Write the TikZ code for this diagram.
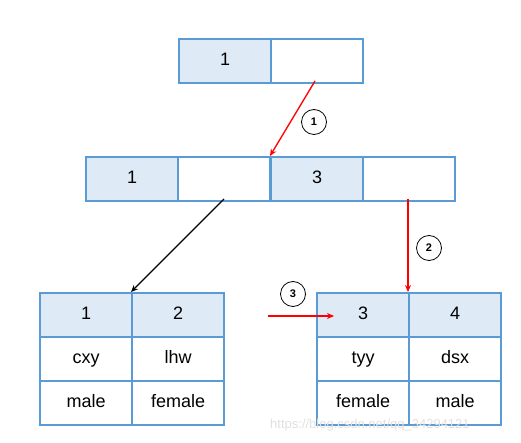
\documentclass[tikz,border=0pt]{standalone}
\usepackage{fontspec}
\setmainfont{Liberation Sans}
\usetikzlibrary{arrows.meta}
\definecolor{cellline}{RGB}{91,155,213}
\definecolor{cellfill}{RGB}{222,235,247}
\definecolor{arrred}{RGB}{255,0,0}
\begin{document}
\begin{tikzpicture}[x=1pt,y=-1pt,
  cell/.style={draw=cellline,line width=2.2pt,minimum width=92pt,minimum height=44pt,inner sep=0pt,text height=12.5pt,text depth=4pt,font=\fontsize{18}{20}\selectfont,anchor=north west},
  key/.style={cell,fill=cellfill},
  circ/.style={draw=black,circle,line width=0.8pt,minimum size=25pt,inner sep=0pt,font=\bfseries\fontsize{11}{12}\selectfont},
  redarr/.style={draw=arrred,line width=1.3pt,-{Stealth[length=7pt,width=6pt]}},
  blkarr/.style={draw=black,line width=1.3pt,-{Stealth[length=7pt,width=6pt]}}]
\useasboundingbox (0,0) rectangle (521,443);
% top node
\node[key] (t1) at (178,38) {1};
\node[cell] (t2) at (270,38) {};
% middle node
\node[key] (m1) at (85,156) {1};
\node[cell] (m2) at (177,156) {};
\node[key] (m3) at (270,156) {3};
\node[cell] (m4) at (362,156) {};
% bottom left leaf
\node[key] (a1) at (39,292) {1};
\node[key] (a2) at (131,292) {2};
\node[cell] (a3) at (39,336) {cxy};
\node[cell] (a4) at (131,336) {lhw};
\node[cell] (a5) at (39,380) {male};
\node[cell] (a6) at (131,380) {female};
% bottom right leaf
\node[key] (b1) at (316,292) {3};
\node[key] (b2) at (408,292) {4};
\node[cell] (b3) at (316,336) {tyy};
\node[cell] (b4) at (408,336) {dsx};
\node[cell] (b5) at (316,380) {female};
\node[cell] (b6) at (408,380) {male};
% arrows
\coordinate (s1) at (315,81);
\draw[redarr] (s1) -- (m3.north west);
\coordinate (s2) at (224,199);
\draw[blkarr] (s2) -- (a2.north west);
\coordinate (s3) at (408,199);
\draw[redarr] (s3) -- (b2.north west);
\coordinate (s4) at (268,316);
\coordinate (e4) at (334,316);
\draw[redarr] (s4) -- (e4);
% circled labels
\node[circ] (c1) at (314,122) {1};
\node[circ] (c2) at (429,248) {2};
\node[circ] (c3) at (293,294) {3};
% watermark
\node[text=black!12,anchor=west,inner sep=0pt,font=\fontsize{13}{14}\selectfont] (wm) at (270,425) {https://blog.csdn.net/qq\_34294121};
\end{tikzpicture}
\end{document}
